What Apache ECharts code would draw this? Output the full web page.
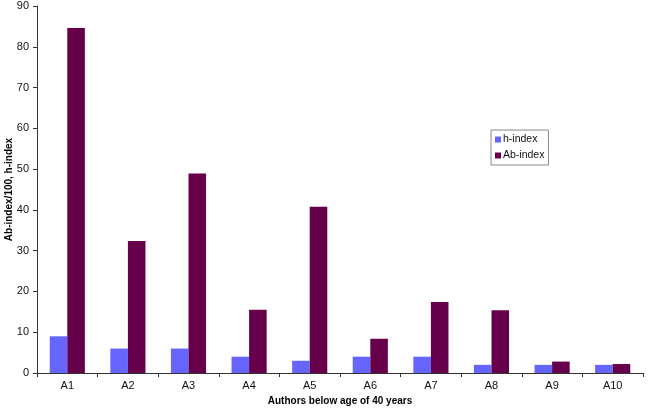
<!DOCTYPE html>
<html>
<head>
<meta charset="utf-8">
<script src="https://cdn.jsdelivr.net/npm/echarts@6/dist/echarts.min.js"></script>
<style>
html,body{margin:0;padding:0;background:#fff;}
#chart{width:648px;height:411px;}
</style>
</head>
<body>
<div id="chart"></div>
<script>
const categories = ['A1','A2','A3','A4','A5','A6','A7','A8','A9','A10'];
const hIndex = [9, 6, 6, 4, 3, 4, 4, 2, 2, 2];
const abIndex = [84.6, 32.4, 48.9, 15.5, 40.8, 8.4, 17.4, 15.4, 2.8, 2.2];
const yTicks = {min: 0, max: 90, interval: 10};

const chart = echarts.init(document.getElementById('chart'));
const font = 'Liberation Sans, Arial, sans-serif';
chart.setOption({
  animation: false,
  backgroundColor: '#ffffff',
  grid: {left: 37, right: 5, top: 6, bottom: 38, containLabel: false, outerBoundsMode: 'none'},
  legend: {
    orient: 'vertical',
    left: 491, top: 130,
    padding: [4, 4, 4, 4],
    itemWidth: 6, itemHeight: 6, itemGap: 5,
    borderColor: '#888', borderWidth: 1,
    textStyle: {fontFamily: font, fontSize: 10.5, color: '#111', padding: [0,0,0,-3]},
    icon: 'rect',
    data: ['h-index', 'Ab-index']
  },
  xAxis: {
    type: 'category',
    data: categories,
    name: 'Authors below age of 40 years',
    nameLocation: 'middle',
    nameGap: 23,
    nameMoveOverlap: false,
    nameTextStyle: {fontFamily: font, fontSize: 10, fontWeight: 'bold', color: '#000'},
    axisLine: {lineStyle: {color: '#333', width: 1}},
    axisTick: {show: true, alignWithLabel: false, length: 4, lineStyle: {color: '#333'}},
    axisLabel: {fontFamily: font, fontSize: 11, color: '#111', margin: 7}
  },
  yAxis: {
    type: 'value',
    min: yTicks.min, max: yTicks.max, interval: yTicks.interval,
    name: 'Ab-index/100, h-index',
    nameLocation: 'middle',
    nameGap: 23,
    nameMoveOverlap: false,
    nameTextStyle: {fontFamily: font, fontSize: 10, fontWeight: 'bold', color: '#000'},
    axisLine: {show: true, lineStyle: {color: '#333', width: 1}},
    axisTick: {show: true, length: 4, lineStyle: {color: '#333'}},
    axisLabel: {fontFamily: font, fontSize: 11, color: '#111', margin: 8},
    splitLine: {show: false}
  },
  series: [
    {
      name: 'h-index', type: 'bar', data: hIndex,
      itemStyle: {color: '#6666FF'},
      barGap: '0%', barCategoryGap: '42%'
    },
    {
      name: 'Ab-index', type: 'bar', data: abIndex,
      itemStyle: {color: '#66004A'},
      barGap: '0%', barCategoryGap: '42%'
    }
  ]
});
</script>
</body>
</html>
